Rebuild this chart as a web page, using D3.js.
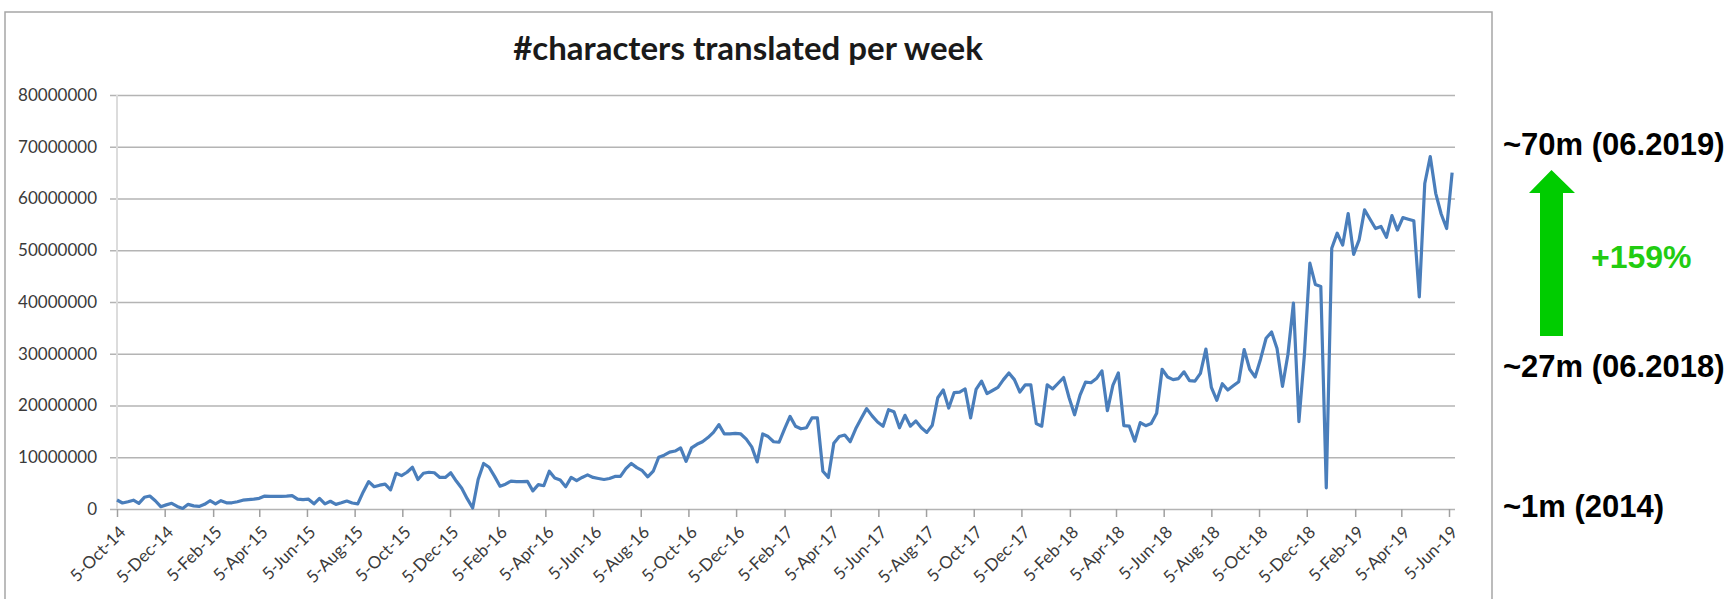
<!DOCTYPE html>
<html>
<head>
<meta charset="utf-8">
<script src="https://cdn.jsdelivr.net/npm/d3@7"></script>
<style>
  body { margin: 0; background: #fff; }
  svg { display: block; }
</style>
</head>
<body>
<svg id="chart" width="1734" height="599"></svg>
<script>
// weekly totals, first week starting 5-Oct-14 (values in millions of characters)
const firstWeek = '2014-10-05';
const charsMillions = [
  1.74, 1.16, 1.4, 1.7, 1.1, 2.26, 2.5, 1.6, 0.45, 0.8,
  1.1, 0.5, 0.1, 0.9, 0.6, 0.5, 0.9, 1.6, 1.0, 1.6,
  1.2, 1.2, 1.4, 1.7, 1.8, 1.9, 2.06, 2.5, 2.45, 2.45,
  2.45, 2.5, 2.6, 1.9, 1.8, 1.9, 1.0, 2.06, 1.0, 1.5,
  0.9, 1.2, 1.55, 1.16, 1.0, 3.3, 5.3, 4.3, 4.6, 4.8,
  3.7, 6.9, 6.45, 7.1, 8.06, 5.7, 6.9, 7.1, 7.0, 6.1,
  6.1, 7.0, 5.4, 4.0, 2.0, 0.2, 5.7, 8.8, 8.06, 6.3,
  4.4, 4.8, 5.4, 5.3, 5.3, 5.35, 3.5, 4.7, 4.5, 7.3,
  6.0, 5.6, 4.3, 6.1, 5.5, 6.1, 6.6, 6.1, 5.9, 5.7,
  5.9, 6.3, 6.3, 7.8, 8.8, 8.0, 7.4, 6.2, 7.3, 10.0,
  10.4, 11.0, 11.2, 11.8, 9.2, 11.8, 12.5, 13.0, 13.8, 14.8,
  16.3, 14.5, 14.5, 14.6, 14.5, 13.5, 12.0, 9.1, 14.5, 14.0,
  13.0, 12.9, 15.5, 17.9, 16.0, 15.5, 15.7, 17.6, 17.6, 7.3,
  6.1, 12.7, 14.0, 14.3, 13.0, 15.5, 17.5, 19.4, 18.0, 16.8,
  16.0, 19.2, 18.8, 15.7, 18.1, 16.0, 17.0, 15.7, 14.8, 16.2,
  21.5, 23.0, 19.5, 22.5, 22.6, 23.2, 17.6, 23.1, 24.7, 22.3,
  22.9, 23.5, 25.0, 26.3, 25.0, 22.6, 24.0, 24.0, 16.5, 16.0,
  24.0, 23.2, 24.3, 25.4, 21.5, 18.2, 22.0, 24.5, 24.4, 25.2,
  26.7, 19.0, 23.9, 26.3, 16.1, 16.0, 13.1, 16.7, 16.1, 16.5,
  18.5, 27.0, 25.5, 25.0, 25.2, 26.5, 24.8, 24.7, 26.2, 30.9,
  23.5, 21.0, 24.2, 23.0, 23.8, 24.6, 30.8, 27.0, 25.5, 29.0,
  33.0, 34.2, 31.0, 23.7, 29.9, 39.8, 16.9, 29.8, 47.5, 43.4,
  43.0, 4.1, 50.4, 53.3, 51.0, 57.1, 49.2, 52.0, 57.8, 56.0,
  54.2, 54.6, 52.5, 56.7, 53.9, 56.3, 56.0, 55.7, 41.0, 62.9,
  68.1, 61.0, 57.0, 54.2, 65.0
];

const yTicks = [0, 10000000, 20000000, 30000000, 40000000, 50000000, 60000000, 70000000, 80000000];
const xTickLabels = [
  '5-Oct-14', '5-Dec-14', '5-Feb-15', '5-Apr-15', '5-Jun-15', '5-Aug-15', '5-Oct-15',
  '5-Dec-15', '5-Feb-16', '5-Apr-16', '5-Jun-16', '5-Aug-16', '5-Oct-16', '5-Dec-16',
  '5-Feb-17', '5-Apr-17', '5-Jun-17', '5-Aug-17', '5-Oct-17', '5-Dec-17', '5-Feb-18',
  '5-Apr-18', '5-Jun-18', '5-Aug-18', '5-Oct-18', '5-Dec-18', '5-Feb-19', '5-Apr-19',
  '5-Jun-19'
];

const title = '#characters translated per week';
const levelNotes = ['~70m (06.2019)', '~27m (06.2018)', '~1m (2014)'];
const growthNote = '+159%';

const parseTick = d3.timeParse('%d-%b-%y');
const tickDates = xTickLabels.map(parseTick);
const start = d3.timeParse('%Y-%m-%d')(firstWeek);
const data = charsMillions.map((v, i) => ({date: d3.timeDay.offset(start, i * 7), value: v * 1e6}));

const svg = d3.select('#chart');

const x = d3.scaleTime()
  .domain([tickDates[0], tickDates[tickDates.length - 1]])
  .range([117, 1449]);
const y = d3.scaleLinear().domain([0, 80000000]).range([509, 95]);

// chart frame
svg.append('rect')
  .attr('x', 5).attr('y', 12)
  .attr('width', 1487).attr('height', 640)
  .attr('fill', 'none')
  .attr('stroke', '#a6a6a6')
  .attr('stroke-width', 1.5);

svg.append('text')
  .attr('x', 748).attr('y', 60)
  .attr('text-anchor', 'middle')
  .attr('font-family', 'Lato')
  .attr('font-weight', 'bold')
  .attr('font-size', 33)
  .attr('fill', '#1a1a1a')
  .text(title);

// gridlines + y labels
svg.append('g')
  .attr('transform', 'translate(110,0)')
  .call(d3.axisLeft(y).tickValues(yTicks).tickSize(-1345).tickPadding(13).tickFormat(d3.format('d')))
  .call(g => g.select('.domain').remove())
  .call(g => g.selectAll('line').attr('stroke', '#b4b4b4').attr('stroke-width', 1.6))
  .call(g => g.selectAll('text')
    .attr('font-family', 'Lato')
    .attr('font-size', 17)
    .attr('fill', '#3a3a3a'));

svg.append('line')
  .attr('x1', x(tickDates[0])).attr('x2', x(tickDates[0]))
  .attr('y1', y(80000000)).attr('y2', y(0))
  .attr('stroke', '#dcdcdc')
  .attr('stroke-width', 2);

svg.append('g')
  .attr('transform', 'translate(0,509)')
  .call(d3.axisBottom(x).tickValues(tickDates).tickSize(8).tickFormat((d, i) => xTickLabels[i]))
  .call(g => g.select('.domain').remove())
  .call(g => g.selectAll('line').attr('stroke', '#a0a0a0').attr('stroke-width', 1.5))
  .call(g => g.selectAll('text')
    .attr('font-family', 'Lato')
    .attr('font-size', 17)
    .attr('fill', '#3a3a3a')
    .attr('text-anchor', 'end')
    .attr('x', 0).attr('y', 0)
    .attr('dy', '0.35em')
    .attr('transform', 'translate(5,20) rotate(-45)'));

svg.append('path')
  .datum(data)
  .attr('fill', 'none')
  .attr('stroke', '#4a7ebb')
  .attr('stroke-width', 3.2)
  .attr('stroke-linejoin', 'round')
  .attr('d', d3.line().x(d => x(d.date)).y(d => y(d.value)));

// annotations on the right
const noteY = [155, 377, 517];
svg.append('g')
  .selectAll('text')
  .data(levelNotes)
  .join('text')
    .attr('x', 1503)
    .attr('y', (d, i) => noteY[i])
    .attr('font-family', 'Liberation Sans, Arial, sans-serif')
    .attr('font-weight', 'bold')
    .attr('font-size', 31)
    .attr('fill', '#000')
    .text(d => d);

svg.append('path')
  .attr('d', 'M1540,336 L1540,193 L1529,193 L1551.5,170 L1575,193 L1563,193 L1563,336 Z')
  .attr('fill', '#00cc00');

svg.append('text')
  .attr('x', 1591).attr('y', 268)
  .attr('font-family', 'Liberation Sans, Arial, sans-serif')
  .attr('font-weight', 'bold')
  .attr('font-size', 32)
  .attr('fill', '#22cc11')
  .text(growthNote);
</script>
</body>
</html>
